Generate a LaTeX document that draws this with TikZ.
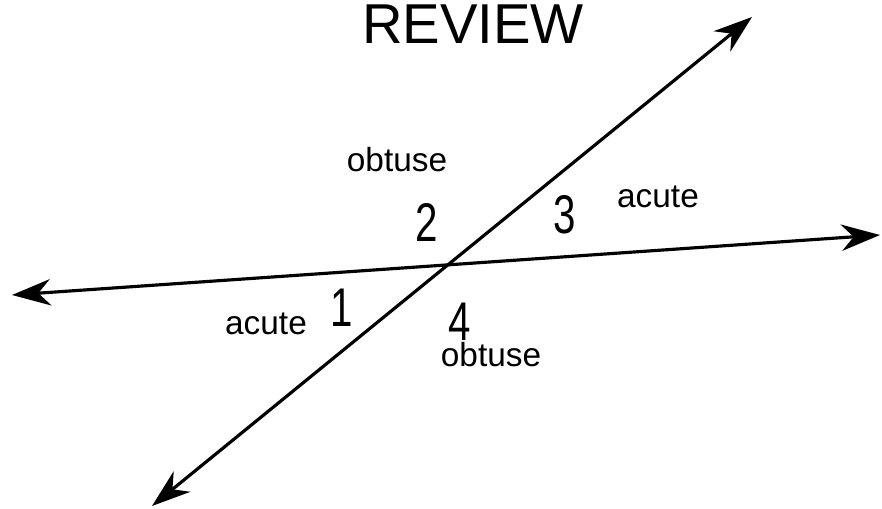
\documentclass[tikz,border=0pt]{standalone}
\usepackage{fontspec}
\setmainfont{Liberation Sans}
\usetikzlibrary{
    arrows.meta,
    calc
}
\tikzset{
  every path/.style={
    black,
    line width=1.8pt
  },
  every node/.style={
    inner sep=0pt
  },
  ray/.style={
    {Stealth[length=22pt,width=15pt,inset=7pt]}-{Stealth[length=22pt,width=15pt,inset=7pt]}
  },
  word/.style={
    font=\fontsize{19}{22}\selectfont
  },
  num/.style={
    font=\fontsize{31}{34}\selectfont,
    xscale=0.74
  }
}

\begin{document}
\begin{tikzpicture}[x=0.02cm, y=-0.02cm]
    \useasboundingbox (0,0) rectangle (882,509);

    % 見出し
    \node[font=\fontsize{32}{36}\selectfont] (title) at (473,24) {REVIEW};

    % 直線の端点
    \coordinate (L) at (12,295);
    \coordinate (R) at (880,235);
    \coordinate (DL) at (152,506);
    \coordinate (UR) at (752,17);

    % 直線
    \draw[ray] (L) -- (R);
    \draw[ray] (DL) -- (UR);

    % 角の番号
    \node[num] (n1) at (342,308) {1};
    \node[num] (n2) at (427,222) {2};
    \node[num] (n3) at (565,215) {3};
    \node[num] (n4) at (460,322) {4};

    % 角の種類
    \node[word] (o2) at (397,160) {obtuse};
    \node[word] (a3) at (658,197) {acute};
    \node[word] (a1) at (266,324) {acute};
    \node[word] (o4) at (491,355) {obtuse};
\end{tikzpicture}
\end{document}
